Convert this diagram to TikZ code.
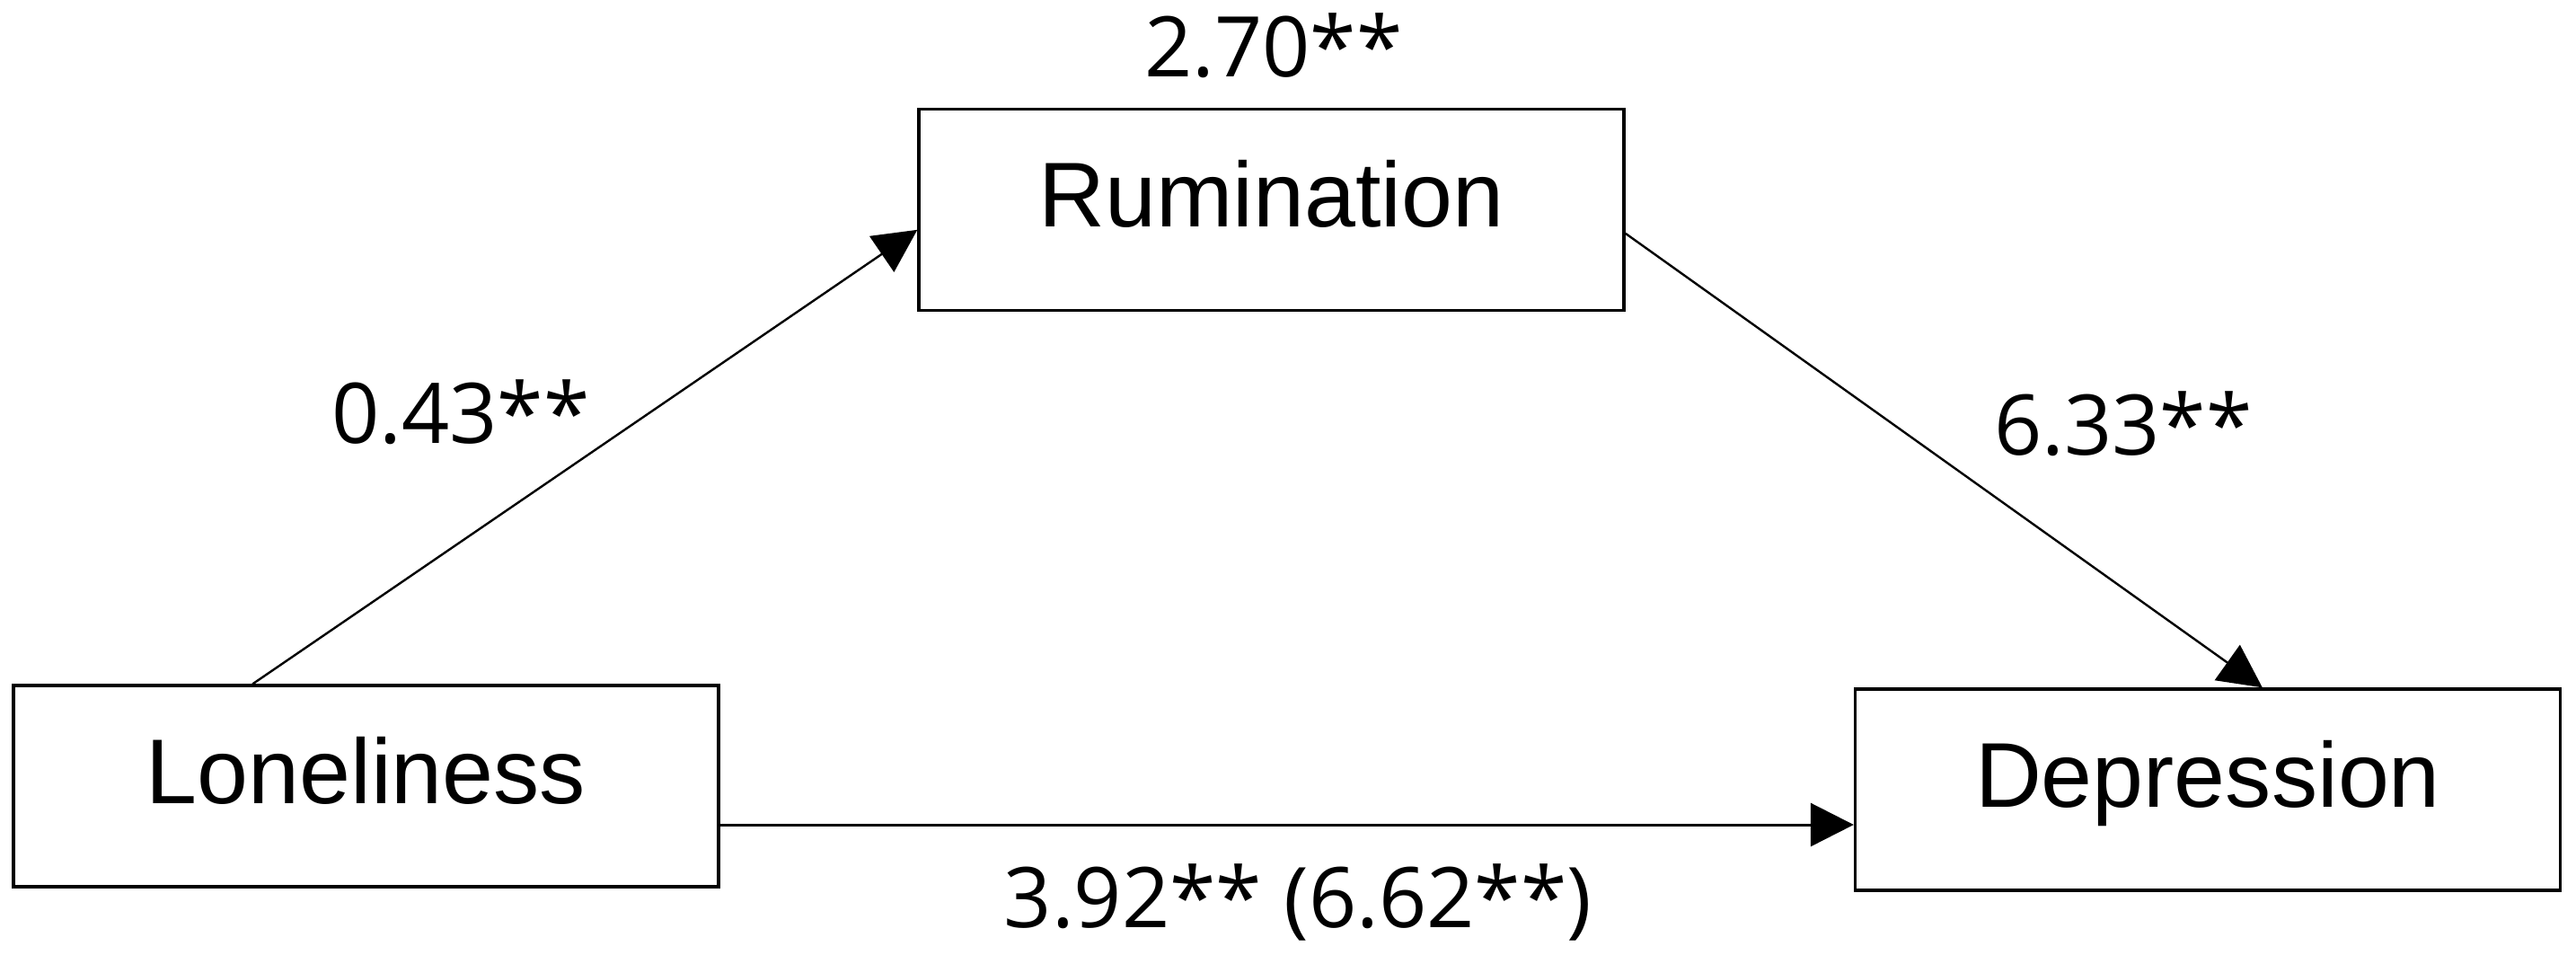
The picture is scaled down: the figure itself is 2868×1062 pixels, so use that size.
\documentclass[tikz,border=0pt]{standalone}
\usepackage{fontspec}
\setmainfont{Liberation Sans}
\newfontfamily\labelfont{Open Sans}
\usetikzlibrary{arrows.meta,calc}
\tikzset{
  varbox/.style={draw=black, line width=0.85pt, fill=white, rectangle, inner sep=0pt,
    minimum width=196.25pt, minimum height=56pt, text height=32.75pt, text depth=23.25pt,
    font=\fontsize{25.6pt}{29pt}\selectfont},
  coef/.style={anchor=base, inner sep=0pt, font=\labelfont\fontsize{23.3pt}{26pt}\selectfont},
  arr/.style={-{Triangle[length=12pt,width=12pt]}, line width=0.6pt, black},
}
\begin{document}
\begin{tikzpicture}[x=0.25pt,y=-0.25pt]
\useasboundingbox (0,0) rectangle (2868,1062);
\node[varbox] (lon) at (407.5,875) {Loneliness};
\node[varbox] (rum) at (1415.5,233.5) {Rumination};
\node[varbox] (dep) at (2458,879) {Depression};
\draw[arr] ($(lon.north west)+(268,0)$) -- ($(rum.north west)+(0,136)$);
\draw[arr] ($(rum.north east)+(0,140)$) -- ($(dep.north west)+(455,0)$);
\coordinate (h) at ($(lon.east)+(0,43)$);
\draw[arr, line width=0.75pt] (h) -- (h -| dep.west);
\node[coef] (c1) at (1418,85) {2.70**};
\node[coef] (c2) at (513,493) {0.43**};
\node[coef] (c3) at (2364,506) {6.33**};
\node[coef] (c4) at (1445,1032) {3.92** (6.62**)};
\end{tikzpicture}
\end{document}
